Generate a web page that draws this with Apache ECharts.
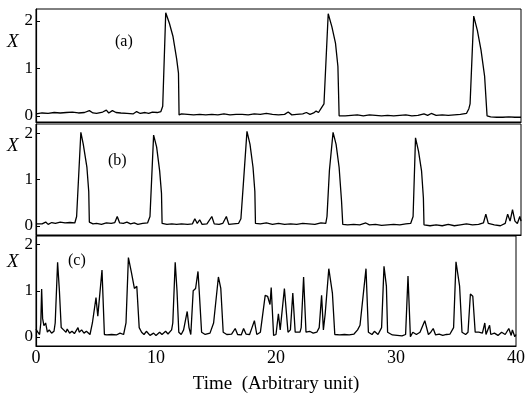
<!DOCTYPE html>
<html>
<head>
<meta charset="utf-8">
<script src="https://cdn.jsdelivr.net/npm/echarts@6/dist/echarts.min.js"></script>
<style>
  html, body { margin: 0; padding: 0; background: #fff; }
  #chartcontainer { width: 528px; height: 397px; }
</style>
</head>
<body>
<div id="chartcontainer"></div>
<script>
// panel (a)
const tA = [0, 0.5, 1, 1.5, 2, 2.5, 3, 3.5, 4, 4.4, 4.7, 5, 5.5, 5.8, 6.0, 6.3, 6.6, 7.0, 7.5, 8, 8.3, 8.6, 9, 9.3, 9.6, 10.0, 10.3, 10.45, 10.7, 11.0, 11.3, 11.6, 11.75, 11.8,
  12.0, 12.5, 13, 13.5, 14, 14.5, 15, 15.5, 16, 16.5, 17, 17.5, 18, 18.5, 19, 19.5, 20, 20.5, 20.8, 21.1, 21.5, 22, 22.3, 22.6, 22.9, 23.1, 23.3, 23.5, 23.6, 23.75,
  24.1, 24.4, 24.7, 24.9, 25.0, 25.5, 26, 26.5, 27, 27.5, 28, 28.5, 29, 29.5, 30, 30.5, 31, 31.5, 32, 32.3, 32.6, 33, 33.5, 34, 34.5, 35, 35.5, 35.7, 35.8,
  36.1, 36.4, 36.7, 37.0, 37.2, 37.5, 38, 38.5, 39, 39.5, 40]
const xA = [0.04, 0.06, 0.05, 0.07, 0.06, 0.07, 0.08, 0.06, 0.07, 0.11, 0.06, 0.05, 0.08, 0.12, 0.06, 0.11, 0.07, 0.06, 0.05, 0.04, 0.09, 0.05, 0.07, 0.05, 0.08, 0.07, 0.09, 0.2, 2.17, 1.95, 1.67, 1.2, 0.9, 0.02,
  0.04, 0.03, 0.02, 0.03, 0.02, 0.03, 0.02, 0.04, 0.02, 0.03, 0.03, 0.02, 0.04, 0.03, 0.05, 0.03, 0.02, 0.03, 0.08, 0.02, 0.03, 0.04, 0.07, 0.03, 0.06, 0.1, 0.07, 0.15, 0.12, 0.25,
  2.15, 1.88, 1.53, 1.04, 0.0, 0.0, 0.01, 0.02, 0.0, 0.02, 0.01, 0.0, 0.01, 0.0, 0.01, 0.02, 0.0, 0.01, 0.04, 0.01, 0.05, 0.01, 0.02, 0.01, 0.02, 0.03, 0.05, 0.15, 0.25,
  2.1, 1.8, 1.39, 0.83, 0.0, -0.02, -0.03, -0.03, -0.02, -0.03, -0.03]

// panel (b)
const tB = [0, 0.5, 0.8, 1.0, 1.3, 1.6, 2.0, 2.4, 2.8, 3.2, 3.35, 3.7, 3.9, 4.2, 4.35, 4.4, 4.7, 5.0, 5.4, 5.8, 6.2, 6.5, 6.7, 6.9, 7.2, 7.5, 7.8, 8.1, 8.4, 8.8, 9.2, 9.4,
  9.7, 9.95, 10.2, 10.35, 10.4, 10.8, 11.2, 11.6, 12.0, 12.5, 12.9, 13.1, 13.3, 13.5, 13.7, 14.1, 14.5, 14.7, 15.1, 15.4, 15.7, 15.9, 16.3, 16.7, 16.9, 17.1,
  17.4, 17.65, 17.9, 18.05, 18.1, 18.5, 19.0, 19.5, 20, 20.5, 21, 21.5, 22, 22.5, 23, 23.5, 23.9, 24.0, 24.2, 24.5, 24.75, 25.0, 25.2, 25.3, 25.7, 26.2, 26.7, 27.2, 27.5,
  28, 28.5, 29, 29.5, 30, 30.5, 30.9, 31.1, 31.3, 31.55, 31.8, 31.95, 32.0, 32.5, 33, 33.5, 34, 34.5, 35, 35.5, 36, 36.5, 36.9, 37.1, 37.3, 37.8, 38.3, 38.7,
  38.9, 39.1, 39.3, 39.5, 39.7, 39.9, 40]
const xB = [0.04, 0.04, 0.08, 0.03, 0.07, 0.05, 0.08, 0.06, 0.07, 0.06, 0.2, 2.02, 1.76, 1.26, 0.74, 0.08, 0.04, 0.05, 0.03, 0.06, 0.05, 0.07, 0.2, 0.06, 0.05, 0.08, 0.04, 0.06, 0.03, 0.05, 0.06, 0.2,
  1.96, 1.7, 1.18, 0.7, 0.05, 0.03, 0.04, 0.03, 0.04, 0.03, 0.04, 0.15, 0.05, 0.13, 0.03, 0.04, 0.2, 0.04, 0.03, 0.05, 0.2, 0.03, 0.04, 0.05, 0.15, 0.9,
  2.04, 1.76, 1.26, 0.74, 0.05, 0.04, 0.06, 0.03, 0.05, 0.03, 0.04, 0.03, 0.05, 0.04, 0.03, 0.06, 0.05, 0.2, 1.2, 2.02, 1.76, 1.26, 0.53, 0.03, 0.02, 0.03, 0.02, 0.06, 0.02,
  0.03, 0.01, 0.02, 0.03, 0.02, 0.04, 0.05, 0.2, 1.9, 1.61, 1.18, 0.6, 0.02, 0.0, 0.02, 0.0, 0.03, 0.0, 0.02, 0.04, 0.02, 0.03, 0.06, 0.25, 0.05, 0.02, 0.0, 0.05,
  0.25, 0.1, 0.35, 0.1, 0.05, 0.2, 0.1]

// panel (c)
const tC = [0, 0.15, 0.3, 0.4, 0.47, 0.55, 0.66, 0.8, 0.95, 1.1, 1.3, 1.5, 1.6, 1.8, 1.95, 2.1, 2.3, 2.5, 2.6, 2.8, 3.0, 3.2, 3.5, 3.6, 3.8, 4.0, 4.2, 4.5, 4.7,
  5.0, 5.15, 5.5, 5.7, 5.9, 6.3, 6.7, 7.0, 7.3, 7.5, 7.7, 7.95, 8.2, 8.4, 8.6, 8.8, 9.0, 9.2, 9.5, 9.8, 10.0, 10.3, 10.5, 10.8, 11.0, 11.3, 11.4, 11.6, 11.75,
  11.9, 12.1, 12.3, 12.6, 12.75, 12.9, 13.1, 13.3, 13.5, 13.6, 13.8, 14.1, 14.5, 14.8, 15.2, 15.4, 15.6, 15.9, 16.3, 16.6, 16.8, 17.1, 17.3, 17.5, 17.8,
  18.0, 18.2, 18.4, 18.7, 19.1, 19.3, 19.5, 19.6, 19.8, 20.0, 20.2, 20.35, 20.7, 21.0, 21.2, 21.4, 21.6, 22.0, 22.1, 22.3, 22.5, 22.8, 23.1, 23.4, 23.6,
  23.8, 23.95, 24.1, 24.4, 24.7, 24.9, 25.3, 25.7, 26.1, 26.5, 26.8, 27.0, 27.5, 27.7, 28.0, 28.2, 28.5, 28.8, 29.0, 29.2, 29.3, 29.7, 30.1, 30.5, 30.8,
  31.0, 31.15, 31.2, 31.4, 31.7, 32.0, 32.4, 32.7, 32.9, 33.1, 33.3, 33.6, 33.9, 34.2, 34.5, 34.8, 35.0, 35.3, 35.5, 35.8, 36.0, 36.2, 36.4, 36.6, 36.9,
  37.2, 37.4, 37.5, 37.8, 37.9, 38.2, 38.5, 38.8, 39.1, 39.4, 39.6, 39.7, 39.9, 40]
const xC = [0.17, 0.1, 0.05, 0.3, 1.04, 0.4, 0.24, 0.3, 0.1, 0.15, 0.08, 0.12, 0.3, 1.62, 1.0, 0.2, 0.15, 0.1, 0.17, 0.08, 0.12, 0.07, 0.2, 0.1, 0.15, 0.08, 0.12, 0.05, 0.3,
  0.85, 0.45, 1.45, 0.05, 0.04, 0.05, 0.04, 0.08, 0.05, 0.3, 1.72, 1.4, 1.05, 1.1, 0.2, 0.1, 0.05, 0.12, 0.03, 0.08, 0.03, 0.1, 0.05, 0.12, 0.06, 0.15, 0.3, 1.62, 1.0,
  0.1, 0.05, 0.15, 0.55, 0.2, 0.05, 1.0, 1.05, 1.42, 1.0, 0.1, 0.05, 0.08, 0.3, 1.3, 1.05, 0.1, 0.05, 0.06, 0.18, 0.05, 0.04, 0.18, 0.06, 0.05,
  0.2, 0.35, 0.05, 0.1, 0.9, 0.88, 0.7, 1.07, 0.03, 0.05, 0.5, 0.15, 1.05, 0.1, 0.15, 0.95, 0.1, 0.1, 0.2, 1.3, 0.1, 0.12, 0.08, 0.1, 0.2,
  0.9, 0.15, 0.5, 1.48, 0.95, 0.05, 0.04, 0.05, 0.04, 0.06, 0.15, 0.25, 1.48, 0.1, 0.05, 0.12, 0.05, 0.2, 1.53, 1.1, 0.1, 0.04, 0.03, 0.02, 0.05,
  1.32, 1.3, 0.0, 0.1, 0.05, 0.1, 0.35, 0.05, 0.1, 0.18, 0.04, 0.06, 0.03, 0.05, 0.06, 0.2, 1.63, 1.1, 0.1, 0.05, 0.1, 0.93, 0.88, 0.1, 0.1,
  0.08, 0.3, 0.05, 0.25, 0.05, 0.08, 0.03, 0.1, 0.05, 0.18, 0.03, 0.15, 0.0, 0.05]

const yTicks = [0, 1, 2]
const xTicks = [0, 10, 20, 30, 40]
const panelNames = ['(a)', '(b)', '(c)']

const serif = '"Liberation Serif", "DejaVu Serif", serif'

function pairs (t, x) {
  return t.map((v, i) => [v, x[i]])
}

const chart = echarts.init(document.getElementById('chartcontainer'))

const grids = [
  { left: 36, top: 9, width: 485, height: 113 },
  { left: 36, top: 124, width: 485, height: 111 },
  { left: 36, top: 236, width: 485, height: 110 }
]
const yRanges = [[-0.13, 2.25], [-0.2, 2.2], [-0.2, 2.19]]

chart.setOption({
  animation: false,
  backgroundColor: '#fff',
  grid: grids.map(g => Object.assign({ show: true, borderColor: '#000', borderWidth: 1 }, g)),
  xAxis: grids.map((g, i) => ({
    type: 'value',
    gridIndex: i,
    min: 0,
    max: 40,
    interval: 10,
    axisLine: { show: true, onZero: false, lineStyle: { color: '#000', width: 1.2 } },
    axisTick: { show: false },
    splitLine: { show: false },
    axisLabel: {
      show: i === 2,
      customValues: xTicks,
      color: '#000',
      fontFamily: serif,
      fontSize: 18,
      margin: 3
    },
    name: i === 2 ? 'Time  (Arbitrary unit)' : '',
    nameLocation: 'middle',
    nameGap: 29,
    nameTextStyle: { color: '#000', fontFamily: serif, fontSize: 19 }
  })),
  yAxis: grids.map((g, i) => ({
    type: 'value',
    gridIndex: i,
    min: yRanges[i][0],
    max: yRanges[i][1],
    axisLine: { show: true, onZero: false, lineStyle: { color: '#000', width: 1.2 } },
    axisTick: { show: true, inside: true, length: 4, customValues: yTicks, lineStyle: { color: '#000' } },
    splitLine: { show: false },
    axisLabel: {
      customValues: yTicks,
      color: '#000',
      fontFamily: serif,
      fontSize: 17,
      margin: 3
    }
  })),
  graphic: [
    { type: 'text', left: 7, top: 32, style: { text: 'X', font: 'italic 19px ' + serif, fill: '#000' } },
    { type: 'text', left: 7, top: 136, style: { text: 'X', font: 'italic 19px ' + serif, fill: '#000' } },
    { type: 'text', left: 7, top: 252, style: { text: 'X', font: 'italic 19px ' + serif, fill: '#000' } },
    { type: 'text', left: 115, top: 34, style: { text: panelNames[0], font: '16px ' + serif, fill: '#000' } },
    { type: 'text', left: 108, top: 153, style: { text: panelNames[1], font: '16px ' + serif, fill: '#000' } },
    { type: 'text', left: 68, top: 253, style: { text: panelNames[2], font: '16px ' + serif, fill: '#000' } }
  ],
  series: [
    { name: 'a', type: 'line', xAxisIndex: 0, yAxisIndex: 0, data: pairs(tA, xA) },
    { name: 'b', type: 'line', xAxisIndex: 1, yAxisIndex: 1, data: pairs(tB, xB) },
    { name: 'c', type: 'line', xAxisIndex: 2, yAxisIndex: 2, data: pairs(tC, xC) }
  ].map(s => Object.assign(s, {
    showSymbol: false,
    lineStyle: { color: '#000', width: 1.3 }
  }))
})
</script>
</body>
</html>
